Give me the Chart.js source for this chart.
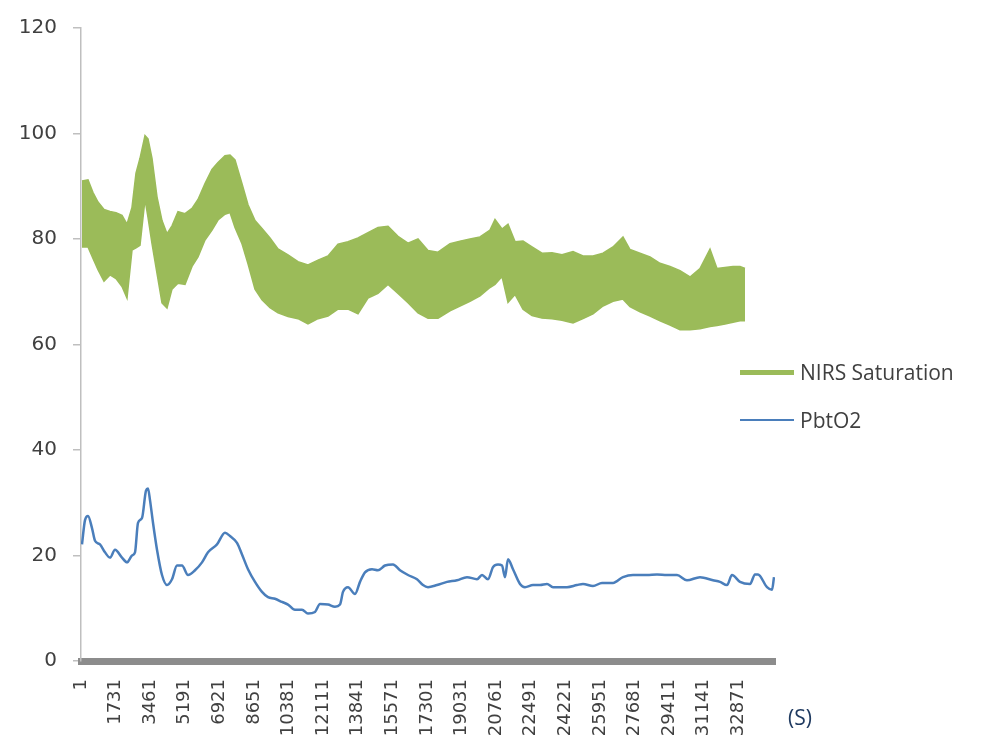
<!DOCTYPE html>
<html lang="en">
<head>
<meta charset="UTF-8">
<title>NIRS Saturation vs PbtO2</title>
<script src="https://cdn.jsdelivr.net/npm/chart.js"></script>
<style>
    html, body {
        margin: 0;
        padding: 0;
        background: #ffffff;
    }
    .chart-wrap {
        position: relative;
        width: 986px;
        height: 744px;
    }
    .legend {
        position: absolute;
        left: 740px;
        top: 357px;
        font-family: 'Open Sans', sans-serif;
        font-size: 21px;
        color: #404040;
    }
    .legend-item {
        display: flex;
        align-items: center;
        height: 30px;
        margin-bottom: 18px;
    }
    .legend-line {
        display: inline-block;
        width: 54px;
        margin-right: 6px;
    }
    .unit {
        position: absolute;
        left: 788px;
        top: 703px;
        font-family: 'Open Sans', sans-serif;
        font-size: 21px;
        color: #1f3a60;
    }
</style>
</head>
<body>
<div class="chart-wrap">
    <canvas id="oxyChart" width="986" height="744"></canvas>
    <div class="legend">
        <div class="legend-item"><span class="legend-line" style="height:5px;background:#9bbb59"></span>NIRS Saturation</div>
        <div class="legend-item"><span class="legend-line" style="height:2.5px;background:#4a7ebb"></span>PbtO2</div>
    </div>
    <div class="unit">(S)</div>
</div>

<script>
    // sample index (s) for the NIRS envelope readings
    const nirsTime = [50, 350, 600, 850, 1150, 1450, 1750, 2050, 2300, 2550,
        2750, 2950, 3200, 3350, 3550, 3800, 4050, 4300, 4550, 4850,
        5200, 5550, 5850, 6200, 6550, 6850, 7200, 7450, 7700, 8050,
        8350, 8700, 9050, 9450, 9850, 10350, 10850, 11350, 11850, 12350,
        12850, 13350, 13850, 14350, 14850, 15350, 15850, 16350, 16850, 17350,
        17850, 18450, 18950, 19450, 19950, 20450, 20700, 21050, 21350, 21700,
        22100, 22550, 23050, 23550, 24050, 24600, 25100, 25600, 26100, 26600,
        27100, 27450, 27950, 28450, 28950, 29450, 29950, 30450, 30950, 31450,
        31800, 32200, 32600, 32950, 33200];

    // top of the oscillating NIRS band
    const nirsUpper = [91.0, 91.2, 88.8, 87.0, 85.6, 85.2, 85.0, 84.5, 82.8, 86.0,
        92.5, 95.3, 99.6, 99.0, 95.3, 88.0, 83.5, 81.0, 82.5, 85.2,
        84.8, 85.8, 87.5, 90.5, 93.2, 94.5, 95.8, 95.9, 95.0, 90.5,
        86.5, 83.5, 82.0, 80.2, 78.1, 77.0, 75.7, 75.1, 76.0, 76.8,
        79.0, 79.5, 80.2, 81.2, 82.2, 82.4, 80.5, 79.2, 80.0, 77.8,
        77.5, 79.1, 79.6, 80.0, 80.4, 81.7, 83.7, 81.9, 82.8, 79.5,
        79.6, 78.5, 77.3, 77.4, 77.0, 77.6, 76.8, 76.8, 77.3, 78.5,
        80.4, 78.0, 77.3, 76.6, 75.4, 74.8, 74.0, 72.8, 74.4, 78.1,
        74.4, 74.6, 74.8, 74.8, 74.4];

    // bottom of the NIRS band
    const nirsLower = [78.5, 78.5, 76.3, 74.2, 72.0, 73.2, 72.5, 71.0, 68.8, 77.9,
        78.3, 78.8, 87.5, 84.1, 79.1, 73.5, 67.9, 66.9, 70.5, 71.6,
        71.4, 74.8, 76.6, 79.8, 81.7, 83.6, 84.7, 85.0, 82.2, 79.1,
        75.3, 70.5, 68.5, 67.0, 66.0, 65.3, 64.9, 63.9, 64.9, 65.4,
        66.7, 66.7, 65.8, 68.8, 69.7, 71.4, 69.7, 67.9, 66.0, 65.0,
        65.0, 66.4, 67.3, 68.2, 69.2, 70.8, 71.4, 72.9, 68.0, 69.5,
        66.7, 65.5, 65.0, 64.9, 64.6, 64.1, 64.9, 65.8, 67.3, 68.2,
        68.6, 67.2, 66.2, 65.4, 64.5, 63.7, 62.8, 62.8, 63.0, 63.4,
        63.6, 63.9, 64.2, 64.5, 64.5];

    const pbtTime = [50, 200, 350, 550, 700, 950, 1200, 1450, 1700, 2050,
        2300, 2550, 2700, 2850, 3050, 3250, 3350, 3450, 3600, 3800,
        4050, 4300, 4550, 4800, 5050, 5350, 5700, 6050, 6350, 6800,
        7200, 7450, 7800, 8050, 8350, 8700, 9050, 9350, 9700, 10050,
        10350, 10700, 11050, 11350, 11700, 11950, 12350, 12700, 12950, 13100,
        13350, 13700, 13950, 14200, 14550, 14850, 15200, 15600, 15950, 16350,
        16800, 17100, 17350, 17800, 18300, 18800, 19300, 19800, 20050, 20350,
        20600, 20850, 21050, 21200, 21350, 21600, 21950, 22200, 22600, 22950,
        23300, 23600, 24300, 24800, 25100, 25600, 26050, 26600, 27100, 27600,
        28300, 28800, 29300, 29800, 30300, 30950, 31600, 31950, 32300, 32550,
        32950, 33450, 33700, 33850, 34300, 34550, 34650];

    const pbtO2 = [22.1, 26.7, 27.5, 25.2, 22.8, 22.1, 20.6, 19.6, 21.1, 19.6,
        18.7, 20.0, 20.6, 26.2, 27.1, 32.3, 32.7, 30.5, 26.2, 21.1,
        16.3, 14.4, 15.5, 18.1, 18.1, 16.3, 17.2, 18.7, 20.6, 22.1,
        24.3, 23.7, 22.4, 20.2, 17.4, 15.0, 13.1, 12.1, 11.8, 11.2,
        10.7, 9.7, 9.7, 9.0, 9.3, 10.8, 10.7, 10.3, 10.7, 13.1,
        14.0, 12.7, 15.0, 16.8, 17.4, 17.2, 18.1, 18.3, 17.2, 16.3,
        15.5, 14.4, 14.0, 14.4, 15.0, 15.3, 15.9, 15.5, 16.3, 15.5,
        17.8, 18.3, 18.1, 15.9, 19.3, 17.4, 14.6, 14.0, 14.4, 14.4,
        14.6, 14.0, 14.0, 14.4, 14.6, 14.2, 14.8, 14.8, 15.9, 16.3,
        16.3, 16.4, 16.3, 16.3, 15.3, 15.9, 15.3, 15.0, 14.4, 16.3,
        15.0, 14.6, 16.4, 16.4, 14.0, 13.5, 15.9];

    const xTickLabels = [1, 1731, 3461, 5191, 6921, 8651, 10381, 12111, 13841, 15571,
        17301, 19031, 20761, 22491, 24221, 25951, 27681, 29411, 31141, 32871];

    const green = '#9bbb59';
    const blue = '#4a7ebb';
    const axisText = '#404040';

    const toPoints = (xs, ys) => xs.map((x, i) => ({ x: x, y: ys[i] }));

    const ctx = document.getElementById('oxyChart').getContext('2d');
    new Chart(ctx, {
        type: 'line',
        data: {
            datasets: [
                {
                    label: 'NIRS Saturation',
                    data: toPoints(nirsTime, nirsUpper),
                    borderColor: green,
                    backgroundColor: green,
                    borderWidth: 1.5,
                    pointRadius: 0,
                    fill: '+1'
                },
                {
                    label: 'NIRS Saturation (low)',
                    data: toPoints(nirsTime, nirsLower),
                    borderColor: green,
                    borderWidth: 1.5,
                    pointRadius: 0,
                    fill: false
                },
                {
                    label: 'PbtO2',
                    data: toPoints(pbtTime, pbtO2),
                    borderColor: blue,
                    borderWidth: 2.5,
                    pointRadius: 0,
                    fill: false,
                    cubicInterpolationMode: 'monotone'
                }
            ]
        },
        options: {
            responsive: false,
            animation: false,
            layout: {
                padding: { top: 19, right: 211, bottom: 0, left: 0 }
            },
            plugins: {
                legend: { display: false },
                tooltip: { enabled: false }
            },
            scales: {
                x: {
                    type: 'linear',
                    min: 0,
                    max: 34700,
                    afterBuildTicks: (scale) => {
                        scale.ticks = xTickLabels.map(v => ({ value: v }));
                    },
                    afterFit: (scale) => {
                        scale.height = 83;
                    },
                    grid: { display: false, drawTicks: false },
                    border: { display: true, color: '#8c8c8c', width: 7 },
                    ticks: {
                        autoSkip: false,
                        minRotation: 90,
                        maxRotation: 90,
                        padding: 18,
                        color: axisText,
                        font: { family: 'DejaVu Sans', size: 18 },
                        callback: (v) => String(v)
                    }
                },
                y: {
                    min: 0,
                    max: 120,
                    afterFit: (scale) => {
                        scale.width = 81;
                    },
                    grid: {
                        drawOnChartArea: false,
                        tickLength: 8,
                        color: '#bfbfbf',
                        lineWidth: 1.5
                    },
                    border: { color: '#bfbfbf', width: 1.5 },
                    ticks: {
                        stepSize: 20,
                        padding: 16,
                        color: axisText,
                        font: { family: 'DejaVu Sans', size: 20 }
                    }
                }
            }
        }
    });
</script>
</body>
</html>
